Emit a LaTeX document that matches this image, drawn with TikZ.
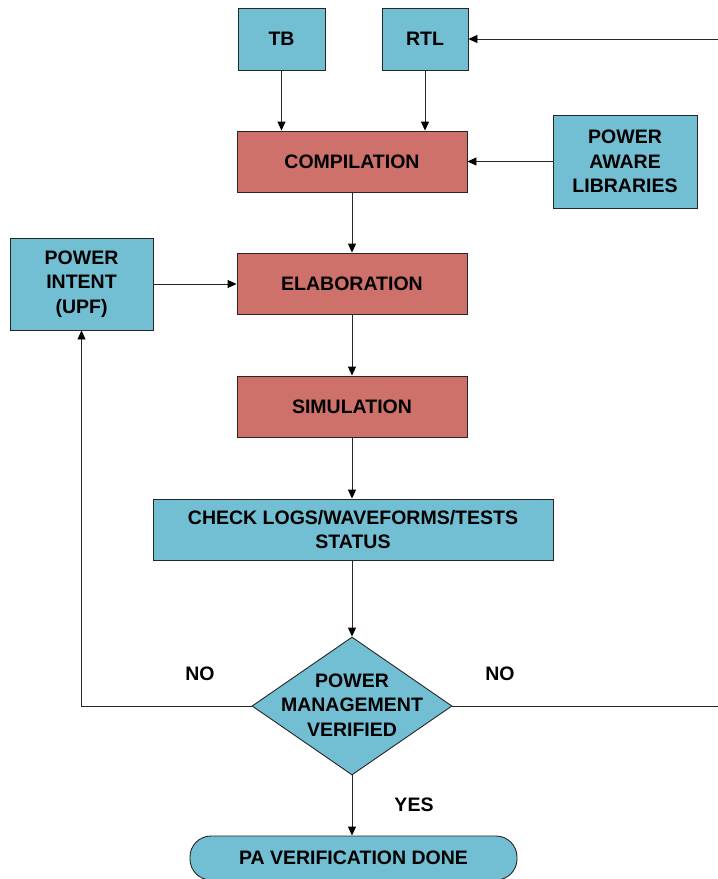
\documentclass[tikz,border=0pt]{standalone}
\usepackage{fontspec}
\setmainfont{Liberation Sans}
\usetikzlibrary{arrows.meta,shapes.geometric}
\definecolor{boxblue}{RGB}{114,190,210}
\definecolor{boxred}{RGB}{205,113,106}
\definecolor{linegray}{RGB}{40,40,40}
\tikzset{
  base/.style={draw=black!85, line width=0.9pt, inner sep=0pt, align=center,
    font=\fontsize{19.5}{24.5}\selectfont\bfseries},
  bluebox/.style={base, fill=boxblue, rectangle},
  redbox/.style={base, fill=boxred, rectangle, minimum width=230pt, minimum height=61pt},
  decbox/.style={base, fill=boxblue, diamond, minimum width=200pt, minimum height=138pt},
  termbox/.style={base, fill=boxblue, rectangle, rounded corners=21pt, minimum width=327pt, minimum height=44pt},
  txt/.style={inner sep=0pt, align=center, font=\fontsize{19.5}{24.5}\selectfont\bfseries},
  conn/.style={draw=linegray, line width=0.9pt},
  arr/.style={conn, -{Triangle[length=9pt,width=8pt,fill=black,color=black]}}
}
\begin{document}
\begin{tikzpicture}[x=1pt,y=-1pt]
\useasboundingbox (0,0) rectangle (718,879);
\clip (0,0) rectangle (718,879);
\node[bluebox, minimum width=87pt, minimum height=62pt] (tb) at (281.5,39) {TB};
\node[bluebox, minimum width=86pt, minimum height=62pt] (rtl) at (425,39) {RTL};
\node[redbox] (comp) at (352,161.5) {COMPILATION};
\node[bluebox, minimum width=144pt, minimum height=93pt] (pal) at (625,161.5) {POWER\\AWARE\\LIBRARIES};
\node[redbox] (elab) at (352,283.5) {ELABORATION};
\node[bluebox, minimum width=143pt, minimum height=92pt] (pi) at (81.5,284) {POWER\\INTENT\\(UPF)};
\node[redbox] (sim) at (352,406.5) {SIMULATION};
\node[bluebox, minimum width=400pt, minimum height=61pt] (check) at (353,529.5) {CHECK LOGS/WAVEFORMS/TESTS\\STATUS};
\node[decbox] (dec) at (352,706) {};
\node[txt] (dectext) at (352,705) {POWER\\MANAGEMENT\\VERIFIED};
\node[termbox] (done) at (353.5,858) {PA VERIFICATION DONE};
\node[txt] (nol) at (200,674) {NO};
\node[txt] (nor) at (500,674) {NO};
\node[txt] (yes) at (414,805) {YES};
\coordinate (loopbot) at (740,706);
\coordinate (looptop) at (740,39);
\draw[arr] (tb.south) -- (comp.north -| tb.south);
\draw[arr] (rtl.south) -- (comp.north -| rtl.south);
\draw[arr] (pal.west) -- (comp.east);
\draw[arr] (comp.south) -- (elab.north);
\draw[arr] (pi.east) -- (elab.west |- pi.east);
\draw[arr] (elab.south) -- (sim.north);
\draw[arr] (sim.south) -- (check.north -| sim.south);
\draw[arr] (check.south -| dec.north) -- (dec.north);
\draw[arr] (dec.south) -- (done.north -| dec.south);
\draw[arr] (dec.west) -- (pi.south |- dec.west) -- (pi.south);
\draw[arr] (dec.east) -- (loopbot) -- (looptop) -- (rtl.east);
\end{tikzpicture}
\end{document}
